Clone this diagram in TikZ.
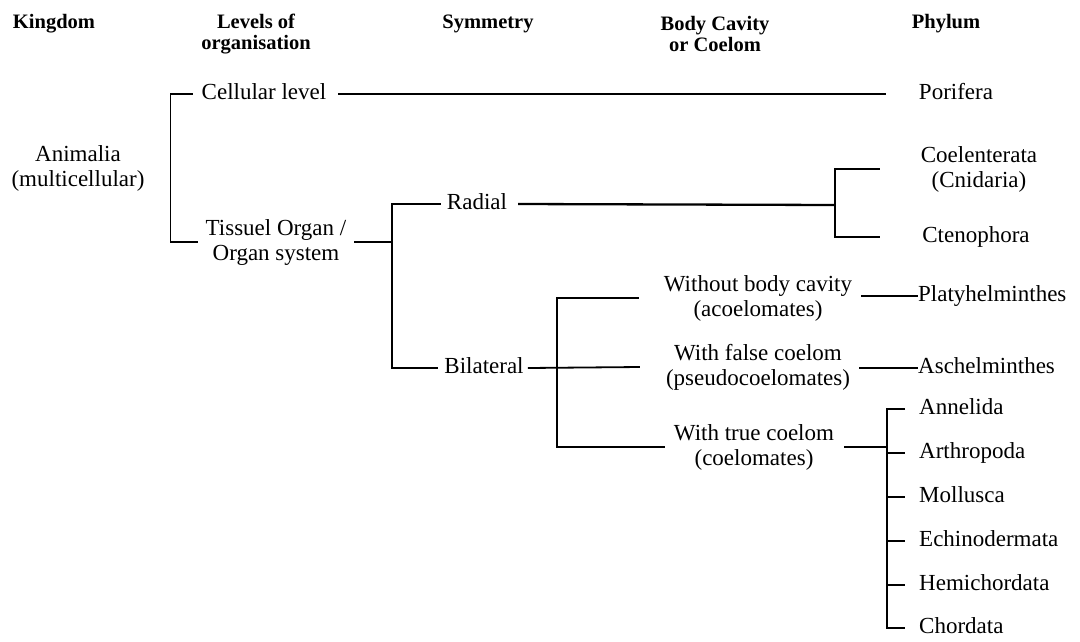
\documentclass[tikz,border=0pt]{standalone}
\usepackage{fontspec}
\setmainfont{Liberation Serif}
\begin{document}
\begin{tikzpicture}[x=1pt,y=-1pt,
  lbl/.style={inner sep=0pt, font=\fontsize{23}{25}\selectfont, align=center},
  one/.style={lbl, text height=15pt, text depth=5pt},
  hd/.style={inner sep=0pt, font=\fontsize{20.5}{21}\selectfont\bfseries, align=center},
  ln/.style={line width=1.8pt},
  thick ln/.style={line width=2.3pt}
]
\useasboundingbox (0,0) rectangle (1080,641);

% headers
\node[hd] (hk) at (54,24) {Kingdom};
\node[hd] (hl) at (256,34) {Levels of\\organisation};
\node[hd] (hs) at (488,24) {Symmetry};
\node[hd] (hb) at (715,34) {Body Cavity\\or Coelom};
\node[hd] (hp) at (946,24) {Phylum};

% labels
\node[lbl] (ani) at (78,168) {Animalia\\(multicellular)};
\node[one] (cell) at (264,94) {Cellular level};
\node[lbl] (tis) at (276,242) {Tissuel Organ /\\Organ system};
\node[one] (por) at (956,94) {Porifera};
\node[one] (rad) at (477,204) {Radial};
\node[one] (bil) at (484,368) {Bilateral};
\node[lbl] (coel) at (979,169) {Coelenterata\\(Cnidaria)};
\node[one] (cten) at (976,237) {Ctenophora};
\node[lbl] (wbc) at (758,298) {Without body cavity\\(acoelomates)};
\node[lbl] (wfc) at (758,367) {With false coelom\\(pseudocoelomates)};
\node[lbl] (wtc) at (754,447) {With true coelom\\(coelomates)};
\node[one, anchor=west] (pla) at (918,296) {Platyhelminthes};
\node[one, anchor=west] (asc) at (918,368) {Aschelminthes};
\node[one, anchor=west] (ann) at (919,409) {Annelida};
\node[one, anchor=west] (art) at (919,453) {Arthropoda};
\node[one, anchor=west] (mol) at (919,497) {Mollusca};
\node[one, anchor=west] (ech) at (919,541) {Echinodermata};
\node[one, anchor=west] (hem) at (919,585) {Hemichordata};
\node[one, anchor=west] (cho) at (919,628) {Chordata};

% junctions
\coordinate (s1) at (392,242);
\coordinate (s2) at (835,205);
\coordinate (s3) at (557,368);
\coordinate (s4) at (887,447);

% kingdom bracket
\draw[ln] ([xshift=-9]cell.west) -- ++(-22,0) |- ([xshift=-8]tis.west);
\draw[ln] ([xshift=12]cell.east) -- ([xshift=-33]por.west);

% symmetry
\draw[ln] ([xshift=8]tis.east) -- (s1);
\draw[ln] ([xshift=-6]rad.west) -| (s1 |- bil.west) -- ([xshift=-6]bil.west);

% radial
\draw[thick ln] ([xshift=11]rad.east) -- (s2);
\draw[ln] ([xshift=-41]coel.west) -| (s2 |- cten.west) -- ([xshift=-42]cten.west);

% bilateral
\draw[ln] ([xshift=4]bil.east) -- ([xshift=-26]wfc.west);
\draw[ln] ([xshift=-25]wbc.west) -| (s3 |- wtc.west) -- ([xshift=-9]wtc.west);

% body cavity to phyla
\draw[ln] ([xshift=9]wbc.east |- pla.west) -- (pla.west);
\draw[ln] ([xshift=9]wfc.east |- asc.west) -- (asc.west);
\draw[ln] ([xshift=10]wtc.east) -- (s4);
\draw[ln] ([xshift=-14]ann.west) -| (s4 |- cho.west) -- ([xshift=-14]cho.west);
\draw[ln] (s4 |- art.west) -- ([xshift=-14]art.west);
\draw[ln] (s4 |- mol.west) -- ([xshift=-14]mol.west);
\draw[ln] (s4 |- ech.west) -- ([xshift=-14]ech.west);
\draw[ln] (s4 |- hem.west) -- ([xshift=-14]hem.west);
\end{tikzpicture}
\end{document}
